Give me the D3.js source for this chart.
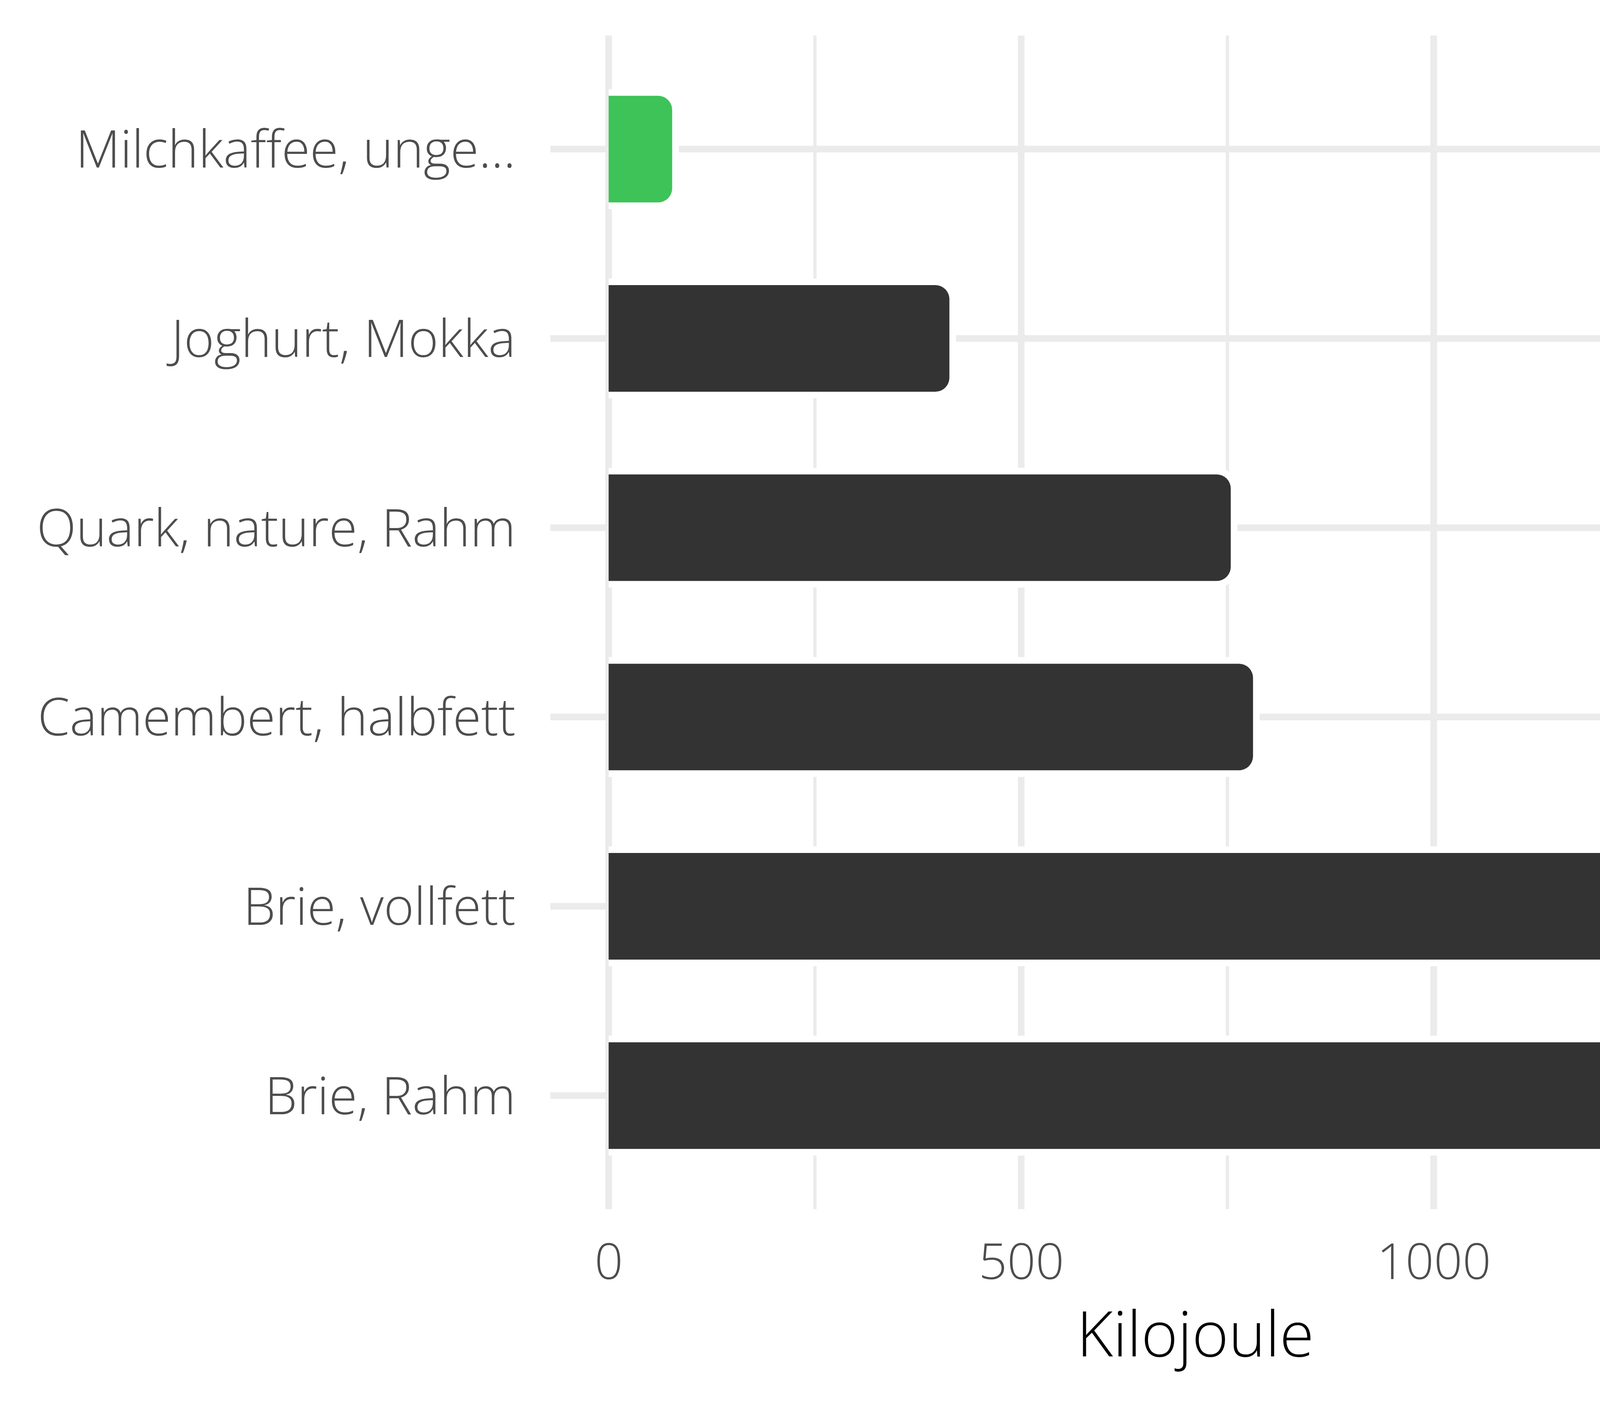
<!DOCTYPE html>
<html>
<head>
<meta charset="utf-8">
<script src="https://cdn.jsdelivr.net/npm/d3@7"></script>
<style>
  html, body { margin: 0; padding: 0; background: #ffffff; }
  text { font-family: "Open Sans", "Noto Sans", sans-serif; font-weight: 300; }
</style>
</head>
<body>
<div id="chart"></div>
<script>
  // values
  const categories = [
    "Milchkaffee, unge...",
    "Joghurt, Mokka",
    "Quark, nature, Rahm",
    "Camembert, halbfett",
    "Brie, vollfett",
    "Brie, Rahm"
  ];
  const kilojoule = [77, 413, 754, 781, 1236, 1395];
  const highlighted = ["Milchkaffee, unge..."];
  const majorTicks = [0, 500, 1000];
  const minorTicks = [250, 750, 1250];
  const xTitle = "Kilojoule";

  const width = 4800;
  const height = 3600;
  const panel = { left: 1409, right: 4643, top: 91, bottom: 3096 };

  const rows = categories.map((c, i) => ({ name: c, value: kilojoule[i] }));

  const svg = d3.select("#chart")
    .append("svg")
    .attr("width", width)
    .attr("height", height);

  svg.append("rect")
    .attr("width", width)
    .attr("height", height)
    .attr("fill", "#ffffff");

  const xScale = d3.scaleLinear()
    .domain([-70.6, 1460.5])
    .range([panel.left, panel.right]);
  const yScale = d3.scalePoint()
    .domain(categories)
    .range([panel.top, panel.bottom])
    .padding(0.6);
  const barHeight = yScale.step() * 0.563;
  const radius = 36;

  // grid
  const grid = svg.append("g");
  grid.selectAll("line.minor")
    .data(minorTicks)
    .join("line")
    .attr("class", "minor")
    .attr("x1", d => xScale(d))
    .attr("x2", d => xScale(d))
    .attr("y1", panel.top)
    .attr("y2", panel.bottom)
    .attr("stroke", "#ebebeb")
    .attr("stroke-width", 8.5);
  grid.selectAll("line.major")
    .data(majorTicks)
    .join("line")
    .attr("class", "major")
    .attr("x1", d => xScale(d))
    .attr("x2", d => xScale(d))
    .attr("y1", panel.top)
    .attr("y2", panel.bottom)
    .attr("stroke", "#ebebeb")
    .attr("stroke-width", 17);
  grid.selectAll("line.hgrid")
    .data(categories)
    .join("line")
    .attr("class", "hgrid")
    .attr("x1", panel.left)
    .attr("x2", panel.right)
    .attr("y1", d => yScale(d))
    .attr("y2", d => yScale(d))
    .attr("stroke", "#ebebeb")
    .attr("stroke-width", 17);

  // bars: square on the left, rounded on the right, white outline
  function barPath(d) {
    const x0 = xScale(0);
    const x1 = xScale(d.value);
    const y0 = yScale(d.name) - barHeight / 2;
    const y1 = yScale(d.name) + barHeight / 2;
    const r = Math.min(radius, (x1 - x0) / 2);
    return `M${x0},${y0} H${x1 - r} A${r},${r} 0 0 1 ${x1},${y0 + r}` +
      ` V${y1 - r} A${r},${r} 0 0 1 ${x1 - r},${y1} H${x0}`;
  }
  svg.append("g")
    .selectAll("path")
    .data(rows)
    .join("path")
    .attr("d", barPath)
    .attr("fill", d => highlighted.includes(d.name) ? "#3ec358" : "#333333")
    .attr("stroke", "#ffffff")
    .attr("stroke-width", 34)
    .attr("paint-order", "stroke");

  // axes (ggplot minimal look: no lines, only labels)
  const yAxis = d3.axisLeft(yScale).tickSize(0).tickPadding(0);
  const yAxisGroup = svg.append("g")
    .attr("transform", "translate(1320,0)")
    .call(yAxis);
  yAxisGroup.select(".domain").remove();
  yAxisGroup.selectAll("text")
    .attr("dy", null)
    .attr("y", 47)
    .attr("font-size", 132)
    .attr("fill", "#4d4d4d");

  const xAxis = d3.axisBottom(xScale)
    .tickValues(majorTicks)
    .tickFormat(d3.format("d"))
    .tickSize(0)
    .tickPadding(0);
  const xAxisGroup = svg.append("g")
    .attr("transform", "translate(0,3275)")
    .call(xAxis);
  xAxisGroup.select(".domain").remove();
  xAxisGroup.selectAll("text")
    .attr("dy", null)
    .attr("y", 0)
    .attr("font-size", 128)
    .attr("fill", "#4d4d4d");

  svg.selectAll("g").attr("font-family", null);

  svg.append("text")
    .attr("x", 3060)
    .attr("y", 3473)
    .attr("text-anchor", "middle")
    .attr("font-size", 160)
    .attr("fill", "#000000")
    .text(xTitle);
</script>
</body>
</html>
